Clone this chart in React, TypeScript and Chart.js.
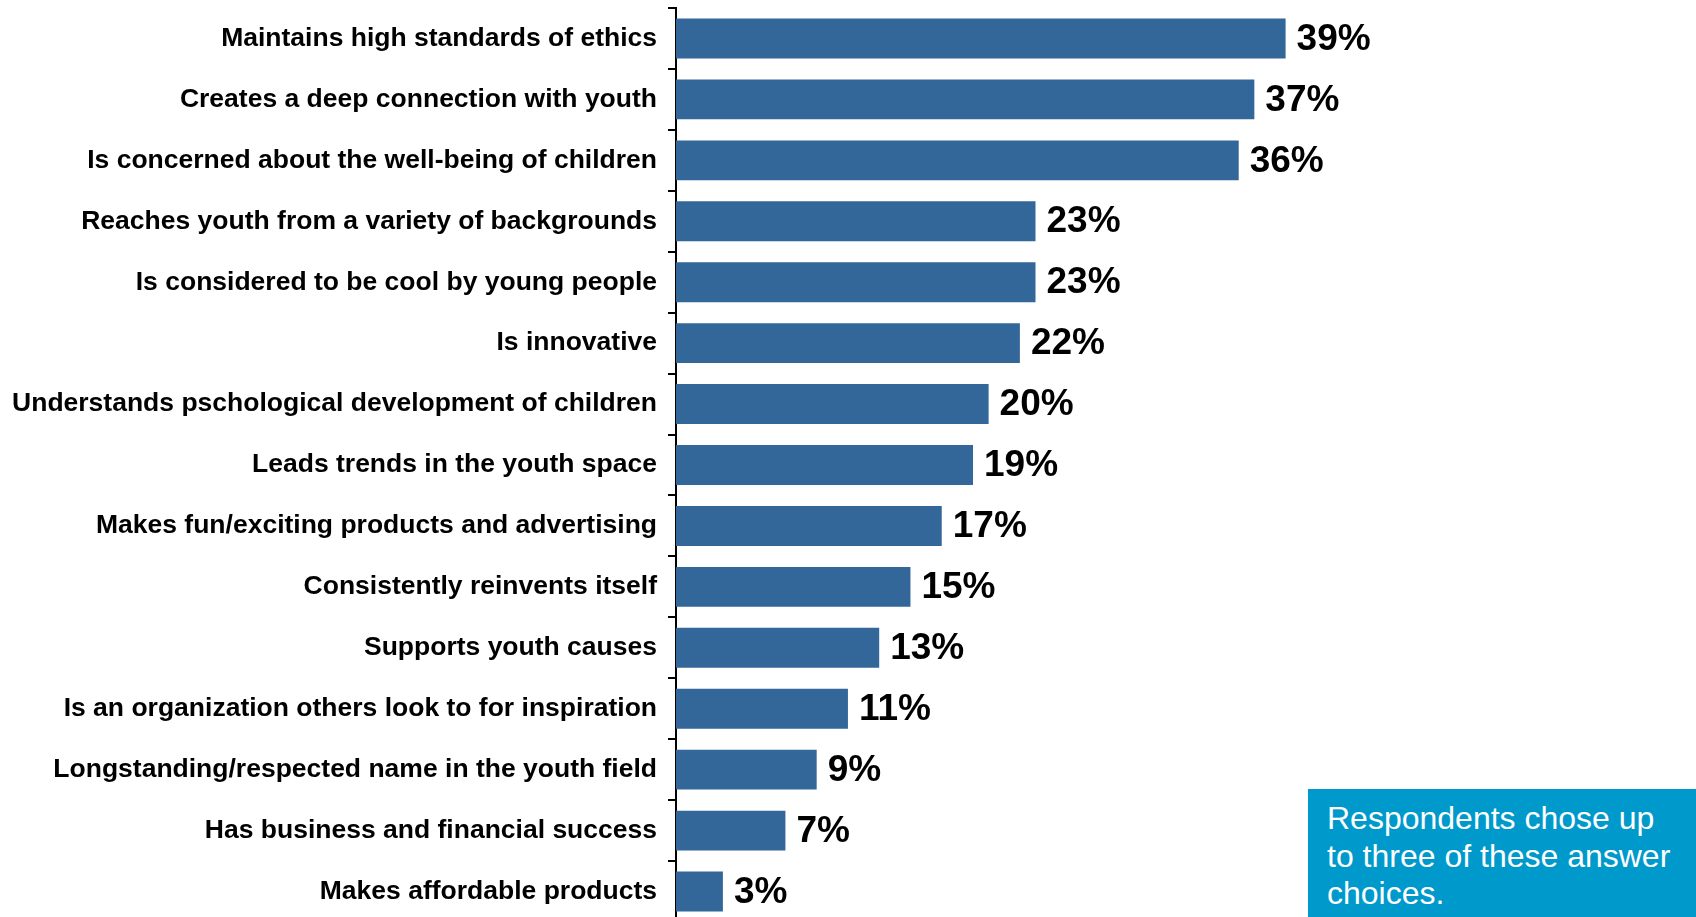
import React, { useEffect, useRef } from "react";
import { Chart, registerables } from "chart.js";

Chart.register(...registerables);

const categories: string[] = [
  "Maintains high standards of ethics",
  "Creates a deep connection with youth",
  "Is concerned about the well-being of children",
  "Reaches youth from a variety of backgrounds",
  "Is considered to be cool by young people",
  "Is innovative",
  "Understands pschological development of children",
  "Leads trends in the youth space",
  "Makes fun/exciting products and advertising",
  "Consistently reinvents itself",
  "Supports youth causes",
  "Is an organization others look to for inspiration",
  "Longstanding/respected name in the youth field",
  "Has business and financial success",
  "Makes affordable products",
];

const values: number[] = [39, 37, 36, 23, 23, 22, 20, 19, 17, 15, 13, 11, 9, 7, 3];

const noteLines: string[] = ["Respondents chose up", "to three of these answer", "choices."];

const FONT = "'Liberation Sans', Arial, Helvetica, sans-serif";

const valueLabelPlugin = {
  id: "valueLabels",
  afterDatasetsDraw(chart: any) {
    const ctx = chart.ctx;
    const meta = chart.getDatasetMeta(0);
    ctx.save();
    ctx.font = `bold 37px ${FONT}`;
    ctx.fillStyle = "#000000";
    ctx.textAlign = "left";
    ctx.textBaseline = "middle";
    meta.data.forEach((bar: any, i: number) => {
      const v = chart.data.datasets[0].data[i];
      ctx.fillText(`${v}%`, bar.x + 11, bar.y + 1);
    });
    ctx.restore();
  },
};

export default function App() {
  const canvasRef = useRef<HTMLCanvasElement | null>(null);

  useEffect(() => {
    if (!canvasRef.current) return;
    const chart = new Chart(canvasRef.current, {
      type: "bar",
      data: {
        labels: categories,
        datasets: [
          {
            data: values,
            backgroundColor: "#336699",
            borderWidth: 0,
            categoryPercentage: 1,
            barPercentage: 0.655,
          },
        ],
      },
      options: {
        indexAxis: "y",
        animation: false,
        responsive: false,
        maintainAspectRatio: false,
        layout: { padding: { top: 8, bottom: 8, left: 0, right: 4 } },
        plugins: {
          legend: { display: false },
          tooltip: { enabled: false },
          title: { display: false },
        },
        scales: {
          x: {
            display: false,
            min: 0,
            max: 65,
          },
          y: {
            display: true,
            afterFit: (scale: any) => {
              scale.width = 676;
              scale.paddingTop = 0;
              scale.paddingBottom = 0;
            },
            grid: {
              display: true,
              offset: true,
              drawOnChartArea: false,
              drawTicks: true,
              tickLength: 8,
              color: "#000000",
              lineWidth: 2,
            },
            border: { display: true, color: "#000000", width: 2 },
            ticks: {
              color: "#000000",
              padding: 11,
              autoSkip: false,
              font: { family: FONT, size: 26.5, weight: "bold" },
            },
          },
        },
      },
      plugins: [valueLabelPlugin],
    });
    return () => chart.destroy();
  }, []);

  return (
    <div
      style={{
        position: "fixed",
        top: 0,
        left: 0,
        width: 1696,
        height: 917,
        overflow: "hidden",
        background: "#ffffff",
      }}
    >
      <canvas
        ref={canvasRef}
        width={1696}
        height={930}
        style={{ position: "absolute", top: 0, left: 0, width: 1696, height: 930 }}
      />
      <div
        style={{
          position: "absolute",
          left: 1308,
          top: 789,
          width: 388,
          height: 140,
          background: "#0099CC",
          color: "#ffffff",
          fontFamily: FONT,
          fontSize: 32,
          lineHeight: "37.5px",
          paddingLeft: 19,
          paddingTop: 11,
          boxSizing: "border-box",
          whiteSpace: "nowrap",
        }}
      >
        {noteLines.map((l, i) => (
          <div key={i}>{l}</div>
        ))}
      </div>
    </div>
  );
}
